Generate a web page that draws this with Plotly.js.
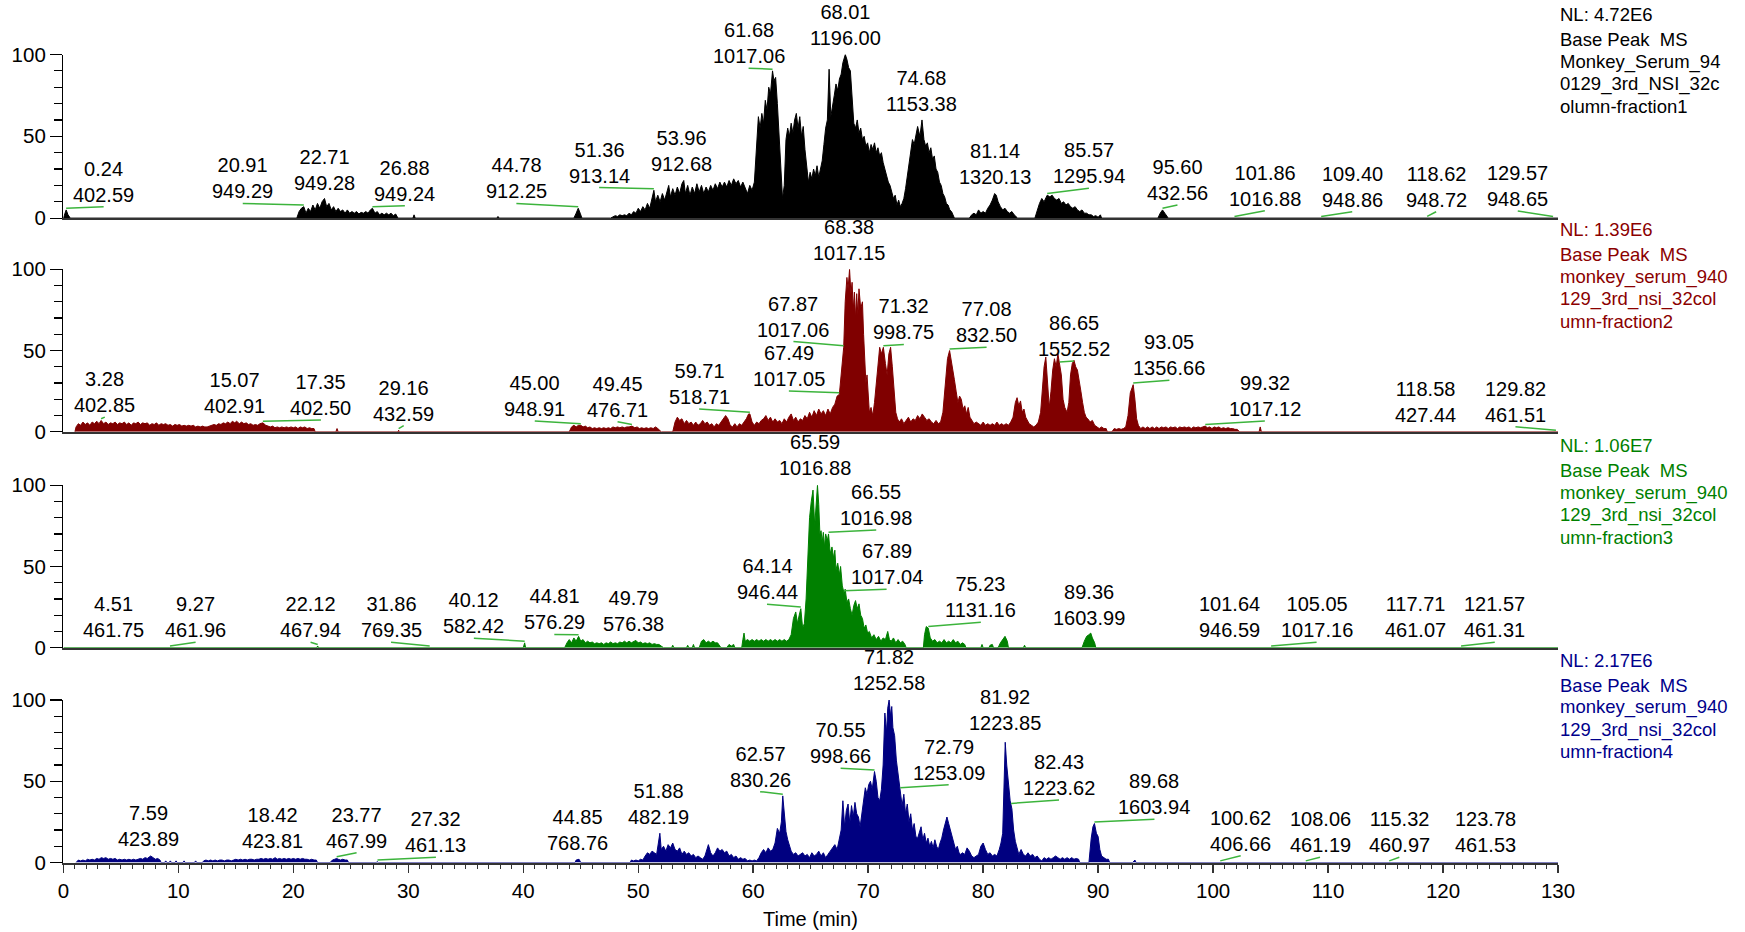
<!DOCTYPE html>
<html><head><meta charset="utf-8">
<script src="https://cdn.plot.ly/plotly-3.0.1.min.js"></script>
<style>html,body{margin:0;padding:0;background:#fff}#plot{width:1745px;height:932px}</style>
</head><body><div id="plot"></div>
<script>
// ---------------- DATA (time in min, relative abundance %) ----------------
const trace1 = [[0,0],[0.1,2],[0.24,5],[0.4,2],[0.6,0],
[20.3,0],[20.5,4],[20.7,6],[20.91,7],[21.1,3],[21.3,6],[21.5,4],[21.7,8],[21.9,5],[22.1,9],[22.3,6],[22.5,10],[22.71,12],[22.9,7],[23.1,9],[23.3,5],[23.5,7],[23.7,4],[23.9,6],[24.1,4],[24.3,5],[24.5,3],[24.7,5],[24.9,3],[25.1,4],[25.3,3],[25.5,4],[25.7,2.5],[25.9,3.5],[26.1,3],[26.3,4],[26.5,3],[26.7,5],[26.88,6],[27.1,3],[27.3,4],[27.5,2],[27.7,3],[27.9,2],[28.1,3],[28.3,2],[28.5,3],[28.7,1.5],[28.9,2.5],[29.1,0],
[30.4,0],[30.5,2],[30.6,0],[37.7,0],[37.8,1],[37.9,0],
[44.4,0],[44.6,3],[44.78,6],[44.95,3],[45.1,0],
[47.6,0],[47.8,1],[48.0,1.5],[48.2,1],[48.4,2],[48.6,1.5],[48.8,2],[49.0,1.5],[49.2,3],[49.4,2],[49.6,4],[49.8,3],[50.0,6],[50.2,4],[50.4,7],[50.6,5],[50.8,9],[51.0,6],[51.2,12],[51.36,17],[51.5,10],[51.7,14],[51.9,10],[52.1,15],[52.3,11],[52.5,17],[52.65,20],[52.8,13],[53.0,18],[53.2,14],[53.4,19],[53.6,15],[53.8,21],[53.96,23],[54.1,15],[54.3,20],[54.5,14],[54.7,19],[54.9,15],[55.1,21],[55.3,16],[55.5,20],[55.7,15],[55.9,19],[56.1,16],[56.3,20],[56.5,17],[56.7,21],[56.9,18],[57.1,22],[57.3,19],[57.5,22],[57.7,19],[57.9,23],[58.1,20],[58.3,24],[58.5,21],[58.7,23],[58.9,19],[59.1,22],[59.3,18],[59.5,15],[59.7,20],[59.9,17],[60.1,22],[60.3,45],[60.45,62],[60.6,55],[60.75,64],[60.9,58],[61.05,72],[61.2,66],[61.35,80],[61.5,76],[61.68,90],[61.8,84],[61.95,86],[62.1,70],[62.25,52],[62.4,30],[62.55,12],[62.7,20],[62.85,48],[63.0,55],[63.15,50],[63.3,58],[63.45,52],[63.6,60],[63.75,64],[63.9,55],[64.05,62],[64.2,50],[64.35,56],[64.5,42],[64.65,30],[64.8,22],[64.95,28],[65.1,24],[65.25,30],[65.4,26],[65.55,32],[65.7,25],[65.85,30],[66.0,35],[66.15,45],[66.3,55],[66.45,60],[66.6,91],[66.75,62],[66.9,70],[67.05,75],[67.2,82],[67.35,78],[67.5,85],[67.65,88],[67.8,95],[68.01,100],[68.15,97],[68.3,92],[68.45,90],[68.6,70],[68.75,58],[68.9,55],[69.05,60],[69.2,52],[69.35,55],[69.5,48],[69.65,50],[69.8,44],[69.95,46],[70.1,40],[70.25,45],[70.4,42],[70.55,46],[70.7,40],[70.85,43],[71.0,38],[71.15,40],[71.3,34],[71.45,30],[71.6,26],[71.75,22],[71.9,20],[72.05,15],[72.2,12],[72.35,14],[72.5,8],[72.65,11],[72.8,7],[72.95,9],[73.1,12],[73.25,18],[73.4,25],[73.55,32],[73.7,40],[73.85,48],[74.0,45],[74.15,52],[74.3,56],[74.5,50],[74.68,60],[74.85,48],[75.0,44],[75.15,46],[75.3,40],[75.45,43],[75.6,36],[75.75,38],[75.9,30],[76.05,28],[76.2,22],[76.35,20],[76.5,15],[76.65,13],[76.8,9],[76.95,8],[77.1,5],[77.25,4],[77.4,2],[77.5,0],
[78.8,0],[79.0,2],[79.2,3],[79.4,2],[79.6,5],[79.8,3],[80.0,4],[80.2,3],[80.4,6],[80.6,8],[80.8,11],[81.0,15],[81.14,14],[81.3,10],[81.5,7],[81.7,5],[81.9,6],[82.1,4],[82.3,3],[82.5,4],[82.7,2],[82.9,1],[83.0,0],
[84.5,0],[84.7,5],[84.9,9],[85.1,12],[85.3,10],[85.57,14],[85.8,13],[86.0,14],[86.2,12],[86.4,11],[86.6,12],[86.8,9],[87.0,10],[87.2,8],[87.4,9],[87.6,7],[87.8,6],[88.0,7],[88.2,5],[88.4,4],[88.6,5],[88.8,3],[89.0,3],[89.2,2],[89.4,2],[89.6,1],[89.8,1.5],[90.0,0.5],[90.2,2],[90.3,0],
[95.2,0],[95.4,3],[95.6,5],[95.8,3],[96.0,1],[96.1,0],[130,0]];

const trace2 = [[1.0,0],[1.1,3],[1.3,5],[1.5,4],[1.7,6],[1.9,4.5],[2.1,5.5],[2.3,4],[2.5,6],[2.7,5],[2.9,6.5],[3.1,5],[3.28,7],[3.5,5],[3.7,6],[3.9,4.5],[4.1,5.5],[4.3,5],[4.5,6],[4.7,4.5],[4.9,5.5],[5.1,5],[5.3,6],[5.5,4.5],[5.7,5.5],[5.9,4],[6.1,5.5],[6.3,5],[6.5,6],[6.7,4.5],[6.9,5.5],[7.1,5],[7.3,5.5],[7.5,4],[7.7,5],[7.9,4.5],[8.1,5.5],[8.3,4],[8.5,5],[8.7,4.5],[8.9,5],[9.1,4],[9.3,4.5],[9.5,3.5],[9.7,4.5],[9.9,4],[10.1,4.5],[10.3,3.5],[10.5,4],[10.7,3.5],[10.9,4],[11.1,3.5],[11.3,4],[11.5,3],[11.7,3.5],[11.9,3],[12.1,3.5],[12.3,3],[12.5,3],[12.7,3.5],[12.9,4],[13.1,4.5],[13.3,4],[13.5,5],[13.7,4.5],[13.9,5.5],[14.1,5],[14.3,6],[14.5,5],[14.7,6.5],[14.9,5.5],[15.07,6.5],[15.3,5],[15.5,6],[15.7,5],[15.9,5.5],[16.1,4.5],[16.3,5],[16.5,4],[16.7,4.5],[16.9,4],[17.1,5],[17.35,5.5],[17.6,4],[17.8,3.5],[18.0,3],[18.2,3.5],[18.4,2.5],[18.6,3],[18.8,2.5],[19.0,3],[19.2,2.5],[19.4,3],[19.6,2.5],[19.8,3],[20.0,2.5],[20.2,3],[20.4,2],[20.6,3],[20.8,2.5],[21.0,3],[21.2,2],[21.4,2.5],[21.6,2],[21.8,2],[21.9,0],
[23.7,0],[23.8,2],[23.9,0],[29.1,0],[29.16,1],[29.2,0],
[44.0,0],[44.2,3],[44.4,4],[44.6,3],[44.8,4],[45.0,4],[45.2,3],[45.4,3.5],[45.6,2.5],[45.8,3],[46.0,2],[46.2,2.5],[46.4,2],[46.6,2.5],[46.8,2],[47.0,2.5],[47.2,2],[47.4,2.5],[47.6,2],[47.8,3],[48.0,2.5],[48.2,3],[48.4,2.5],[48.6,3],[48.8,2.5],[49.0,3],[49.2,3],[49.45,3.5],[49.7,2.5],[49.9,3],[50.1,2],[50.3,2.5],[50.5,2],[50.7,2.5],[50.9,2],[51.1,2.5],[51.3,2],[51.5,3],[51.7,2],[51.9,1],[52.0,0],
[53.0,0],[53.2,6],[53.4,9],[53.6,7],[53.8,8],[54.0,5],[54.2,7],[54.4,5],[54.6,6],[54.8,4],[55.0,6],[55.2,4],[55.4,5],[55.6,7],[55.8,5],[56.0,6],[56.2,4],[56.4,5],[56.6,3],[56.8,5],[57.0,4],[57.2,6],[57.4,8],[57.6,10],[57.8,8],[58.0,4],[58.2,3],[58.4,5],[58.6,3],[58.8,5],[59.0,4],[59.2,6],[59.4,8],[59.6,11],[59.71,11],[59.9,6],[60.1,4],[60.3,6],[60.5,5],[60.7,7],[60.9,8],[61.1,10],[61.3,7],[61.5,9],[61.7,6],[61.9,8],[62.1,6],[62.3,7],[62.5,5],[62.7,8],[62.9,6],[63.1,9],[63.3,11],[63.5,7],[63.7,9],[63.9,6],[64.1,8],[64.3,7],[64.5,10],[64.7,8],[64.9,12],[65.1,9],[65.3,13],[65.5,10],[65.7,14],[65.9,11],[66.1,13],[66.3,10],[66.5,14],[66.7,11],[66.9,15],[67.1,17],[67.3,22],[67.49,23],[67.65,35],[67.87,52],[68.0,80],[68.15,95],[68.25,88],[68.38,100],[68.5,85],[68.6,92],[68.7,75],[68.8,86],[68.9,70],[69.0,85],[69.1,72],[69.2,88],[69.35,76],[69.5,80],[69.6,60],[69.7,48],[69.8,30],[69.9,35],[70.0,20],[70.1,12],[70.25,15],[70.4,10],[70.55,18],[70.7,30],[70.85,45],[71.0,52],[71.15,48],[71.32,52],[71.5,42],[71.65,35],[71.8,48],[71.95,52],[72.1,40],[72.25,25],[72.4,12],[72.55,8],[72.7,6],[72.9,8],[73.1,5],[73.3,7],[73.5,9],[73.7,6],[73.9,8],[74.1,7],[74.3,10],[74.5,8],[74.7,11],[74.9,9],[75.1,7],[75.3,8],[75.5,6],[75.7,5],[75.9,7],[76.1,5],[76.3,6],[76.5,12],[76.7,30],[76.9,45],[77.08,50],[77.2,44],[77.35,38],[77.5,32],[77.65,25],[77.8,18],[77.95,22],[78.1,20],[78.25,14],[78.4,16],[78.55,11],[78.7,15],[78.85,9],[79.0,7],[79.2,5],[79.4,6],[79.6,5],[79.8,4],[80.0,6],[80.2,4],[80.4,5],[80.6,4],[80.8,5],[81.0,4],[81.2,6],[81.4,4],[81.6,5],[81.8,4],[82.0,5],[82.2,4],[82.4,6],[82.6,9],[82.8,18],[82.95,21],[83.1,16],[83.25,19],[83.4,12],[83.55,14],[83.7,9],[83.85,7],[84.0,5],[84.2,4],[84.4,3],[84.6,4],[84.8,6],[85.0,12],[85.15,25],[85.3,40],[85.45,46],[85.6,30],[85.75,15],[85.9,25],[86.05,38],[86.2,45],[86.35,40],[86.5,48],[86.65,42],[86.8,35],[86.95,20],[87.1,15],[87.3,12],[87.45,18],[87.6,35],[87.75,42],[87.9,44],[88.05,40],[88.2,38],[88.35,30],[88.5,25],[88.65,18],[88.8,12],[88.95,9],[89.1,8],[89.3,6],[89.5,7],[89.7,4],[89.9,3],[90.1,2],[90.3,3],[90.5,2],[90.7,2],[90.8,0],
[91.2,0],[91.4,2],[91.6,1.5],[91.8,2],[92.0,1.5],[92.2,2],[92.4,3],[92.6,10],[92.8,24],[93.05,29],[93.2,20],[93.35,8],[93.5,4],[93.7,2],[93.9,3],[94.1,2],[94.3,3],[94.5,2],[94.7,3],[94.9,2],[95.1,3],[95.3,2],[95.5,3],[95.7,2.5],[95.9,3],[96.1,2],[96.3,3],[96.5,2.5],[96.7,3],[96.9,2],[97.1,3],[97.3,2.5],[97.5,3],[97.7,2.5],[97.9,3],[98.1,2],[98.3,3],[98.5,2.5],[98.7,3],[98.9,2.5],[99.1,3],[99.32,3.5],[99.5,2.5],[99.7,3],[99.9,2],[100.1,3],[100.3,2.5],[100.5,3],[100.7,2],[100.9,2.5],[101.1,2],[101.3,2.5],[101.5,2],[101.7,2],[101.9,1.5],[102.1,1.5],[102.3,0],
[104.0,0],[104.1,3],[104.2,0],[130,0]];

const trace3 = [[0,0],[22.0,0],[22.12,1],[22.2,0],[40.0,0],[40.12,3],[40.2,0],
[43.6,0],[43.8,3],[44.0,5],[44.2,3],[44.4,6],[44.6,4],[44.81,7],[45.0,4],[45.2,5],[45.4,3],[45.6,4],[45.8,3],[46.0,3.5],[46.2,2.5],[46.4,3],[46.6,2.5],[46.8,3],[47.0,2],[47.2,3],[47.4,2.5],[47.6,3.5],[47.8,2.5],[48.0,3],[48.2,2.5],[48.4,3.5],[48.6,3],[48.8,4],[49.0,3],[49.2,4],[49.4,3],[49.6,4],[49.79,4.5],[50.0,3],[50.2,3.5],[50.4,2.5],[50.6,3],[50.8,2.5],[51.0,3],[51.2,2],[51.4,2.5],[51.6,2],[51.8,2],[52.0,1],[52.2,0],
[52.9,0],[53.0,1.5],[53.1,0],[54.2,0],[54.3,1.5],[54.4,0],[54.7,0],[54.8,2],[54.9,0],
[55.3,0],[55.5,4],[55.7,5],[55.9,3],[56.1,4],[56.3,3],[56.5,4],[56.7,3],[56.9,3],[57.1,1],[57.2,0],
[57.7,0],[57.9,2],[58.1,1],[58.3,2],[58.4,0],
[59.0,0],[59.1,5],[59.2,9],[59.3,4],[59.5,5],[59.7,4],[59.9,5],[60.1,4],[60.3,5],[60.5,4],[60.7,5],[60.9,4],[61.1,5],[61.3,4],[61.5,5],[61.7,4],[61.9,5],[62.1,4],[62.3,5],[62.5,4],[62.7,5],[62.9,4],[63.1,5],[63.3,8],[63.5,18],[63.7,22],[63.85,15],[64.0,20],[64.14,24],[64.3,12],[64.45,15],[64.6,30],[64.75,60],[64.9,80],[65.05,90],[65.2,97],[65.35,75],[65.45,85],[65.59,100],[65.7,88],[65.8,70],[65.9,72],[66.0,65],[66.1,71],[66.2,62],[66.3,70],[66.45,66],[66.55,70],[66.7,58],[66.85,62],[67.0,55],[67.1,60],[67.2,48],[67.35,52],[67.5,45],[67.6,50],[67.75,38],[67.89,34],[68.0,36],[68.15,28],[68.3,30],[68.45,24],[68.6,20],[68.75,26],[68.9,29],[69.05,24],[69.2,27],[69.35,20],[69.5,18],[69.65,12],[69.8,14],[69.95,9],[70.1,10],[70.3,6],[70.5,8],[70.7,5],[70.9,7],[71.1,4],[71.3,6],[71.5,5],[71.7,10],[71.85,5],[72.0,4],[72.2,6],[72.4,3],[72.6,5],[72.8,3],[73.0,4],[73.2,2],[73.3,0],
[74.8,0],[74.9,8],[75.05,13],[75.23,12],[75.4,6],[75.6,4],[75.8,5],[76.0,3],[76.2,4],[76.4,3],[76.6,5],[76.8,3],[77.0,4],[77.2,3],[77.4,5],[77.6,3],[77.8,4],[78.0,2],[78.2,3],[78.4,2],[78.5,0],
[79.8,0],[79.9,2],[80.0,0],[80.5,0],[80.6,1.5],[80.8,2],[80.9,0],
[81.3,0],[81.5,3],[81.7,5],[81.9,7],[82.1,4],[82.2,0],[83.5,0],[83.6,1.5],[83.7,0],
[88.6,0],[88.8,4],[89.0,7],[89.2,8],[89.36,9],[89.5,6],[89.7,3],[89.8,0],[130,0]];

const trace4 = [[1.1,0],[1.3,1.5],[1.5,1],[1.7,1.5],[1.9,1],[2.1,2],[2.3,1.5],[2.5,2],[2.7,1.5],[2.9,2.5],[3.1,2],[3.3,3],[3.5,2.5],[3.7,3],[3.9,2],[4.1,2.5],[4.3,2],[4.5,2.5],[4.7,1.5],[4.9,2],[5.1,1.5],[5.3,2],[5.5,1.5],[5.7,2],[5.9,1.5],[6.1,2],[6.3,1.5],[6.5,2],[6.7,2.5],[6.9,2],[7.1,3],[7.3,2.5],[7.59,4],[7.8,3],[8.0,2],[8.2,2.5],[8.4,1.5],[8.5,0],
[8.8,0],[8.9,1],[9.0,0],[9.2,0],[9.3,1],[9.4,0],[9.7,0],[9.8,1],[9.9,0],[10.4,0],[10.5,1],[10.6,0],[11.4,0],[11.5,1],[11.6,0],
[12.1,0],[12.2,1],[12.4,1.5],[12.6,1],[12.8,1.5],[13.0,1],[13.2,1.5],[13.4,1],[13.6,1.5],[13.8,1.5],[14.0,1],[14.2,1.5],[14.4,1.5],[14.6,1],[14.8,1.5],[15.0,2],[15.2,1.5],[15.4,2],[15.6,1.5],[15.8,2],[16.0,1.5],[16.2,2],[16.4,2],[16.6,1.5],[16.8,2],[17.0,2],[17.2,2.5],[17.4,2],[17.6,2.5],[17.8,2],[18.0,2.5],[18.2,2],[18.42,3],[18.6,2],[18.8,2.5],[19.0,2],[19.2,2.5],[19.4,2],[19.6,2.5],[19.8,2],[20.0,2.5],[20.2,2],[20.4,2.5],[20.6,2],[20.8,2.5],[21.0,2],[21.2,2],[21.4,1.5],[21.6,2],[21.8,1.5],[22.0,1.5],[22.1,0],
[23.2,0],[23.4,1.5],[23.6,2],[23.77,2.5],[23.9,2],[24.1,1.5],[24.3,2],[24.5,1.5],[24.7,1.5],[24.8,0],
[27.2,0],[27.32,0.5],[27.4,0],[44.5,0],[44.6,1.5],[44.85,2],[45.0,0],
[49.3,0],[49.4,1.5],[49.6,1],[49.8,1.5],[50.0,1],[50.2,2],[50.4,1.5],[50.6,4],[50.8,6],[51.0,5],[51.2,7],[51.4,6],[51.6,5],[51.88,18],[52.0,8],[52.2,10],[52.4,7],[52.6,11],[52.8,9],[53.0,12],[53.2,8],[53.4,7],[53.6,9],[53.8,5],[54.0,7],[54.2,5],[54.4,6],[54.6,4],[54.8,5],[55.0,3],[55.2,4],[55.4,3],[55.6,2],[55.8,4],[56.0,8],[56.1,11],[56.3,6],[56.5,4],[56.7,6],[56.9,9],[57.1,7],[57.3,8],[57.5,6],[57.7,7],[57.9,4],[58.1,5],[58.3,3],[58.5,4],[58.7,2],[58.9,3],[59.1,2],[59.3,2.5],[59.5,1],[59.7,1.5],[59.9,1],[60.1,1.5],[60.3,1],[60.5,3],[60.7,6],[60.9,8],[61.1,6],[61.3,9],[61.5,7],[61.7,8],[61.9,12],[62.1,21],[62.3,18],[62.45,25],[62.57,41],[62.7,28],[62.85,19],[63.0,14],[63.15,10],[63.3,7],[63.5,5],[63.7,6],[63.9,4],[64.1,5],[64.3,6],[64.5,4],[64.7,5],[64.9,3],[65.1,6],[65.3,4],[65.5,5],[65.7,7],[65.9,4],[66.1,6],[66.3,3],[66.5,5],[66.7,7],[66.9,9],[67.1,11],[67.3,8],[67.5,14],[67.65,20],[67.8,38],[67.95,22],[68.1,32],[68.25,36],[68.4,24],[68.55,35],[68.7,28],[68.85,37],[69.0,30],[69.15,28],[69.3,22],[69.45,30],[69.6,38],[69.75,46],[69.9,42],[70.05,48],[70.2,50],[70.35,45],[70.55,56],[70.7,50],[70.85,40],[71.0,38],[71.15,45],[71.3,60],[71.45,92],[71.6,80],[71.7,95],[71.82,100],[71.95,90],[72.05,96],[72.15,83],[72.3,78],[72.45,63],[72.6,55],[72.79,45],[72.95,35],[73.1,42],[73.25,30],[73.4,36],[73.55,25],[73.7,30],[73.85,20],[74.0,24],[74.15,16],[74.3,15],[74.45,18],[74.6,22],[74.75,14],[74.9,18],[75.05,12],[75.2,15],[75.35,10],[75.5,13],[75.65,9],[75.8,14],[75.95,10],[76.1,8],[76.25,12],[76.4,15],[76.55,20],[76.7,25],[76.85,28],[77.0,24],[77.15,20],[77.3,15],[77.45,12],[77.6,8],[77.75,10],[77.9,6],[78.05,5],[78.2,6],[78.4,5],[78.6,9],[78.8,7],[79.0,4],[79.2,3],[79.4,4],[79.6,5],[79.8,10],[80.0,12],[80.2,8],[80.4,5],[80.6,6],[80.8,4],[81.0,5],[81.2,4],[81.4,8],[81.55,12],[81.7,18],[81.8,40],[81.92,74],[82.05,60],[82.2,50],[82.35,38],[82.5,33],[82.65,20],[82.8,13],[82.95,8],[83.1,5],[83.3,8],[83.5,5],[83.7,4],[83.9,6],[84.1,4],[84.3,5],[84.5,3],[84.7,4],[84.9,2],[85.1,1],[85.3,3],[85.5,2],[85.7,3],[85.9,2],[86.1,3],[86.3,4],[86.5,3],[86.7,2],[86.9,3],[87.1,2],[87.3,3],[87.5,2],[87.7,3],[87.9,2],[88.1,2.5],[88.3,2],[88.4,0],
[89.2,0],[89.4,15],[89.55,22],[89.68,24],[89.85,18],[90.0,16],[90.15,8],[90.3,4],[90.5,3],[90.7,2],[90.9,2],[91.0,0],[93.0,0],[93.2,1.5],[93.3,0],[130,0]];

// peak labels: retention time / base peak m/z
const pk1_rt = ['0.24','20.91','22.71','26.88','44.78','51.36','53.96','61.68','68.01','74.68','81.14','85.57','95.60','101.86','109.40','118.62','129.57'];
const pk1_mz = ['402.59','949.29','949.28','949.24','912.25','913.14','912.68','1017.06','1196.00','1153.38','1320.13','1295.94','432.56','1016.88','948.86','948.72','948.65'];
const pk2_rt = ['3.28','15.07','17.35','29.16','45.00','49.45','59.71','67.49','67.87','68.38','71.32','77.08','86.65','93.05','99.32','118.58','129.82'];
const pk2_mz = ['402.85','402.91','402.50','432.59','948.91','476.71','518.71','1017.05','1017.06','1017.15','998.75','832.50','1552.52','1356.66','1017.12','427.44','461.51'];
const pk3_rt = ['4.51','9.27','22.12','31.86','40.12','44.81','49.79','64.14','65.59','66.55','67.89','75.23','89.36','101.64','105.05','117.71','121.57'];
const pk3_mz = ['461.75','461.96','467.94','769.35','582.42','576.29','576.38','946.44','1016.88','1016.98','1017.04','1131.16','1603.99','946.59','1017.16','461.07','461.31'];
const pk4_rt = ['7.59','18.42','23.77','27.32','44.85','51.88','62.57','70.55','71.82','72.79','81.92','82.43','89.68','100.62','108.06','115.32','123.78'];
const pk4_mz = ['423.89','423.81','467.99','461.13','768.76','482.19','830.26','998.66','1252.58','1253.09','1223.85','1223.62','1603.94','406.66','461.19','460.97','461.53'];

const nl = ['NL: 4.72E6','NL: 1.39E6','NL: 1.06E7','NL: 2.17E6'];
const fileNames = [
  ['Monkey_Serum_94','0129_3rd_NSI_32c','olumn-fraction1'],
  ['monkey_serum_940','129_3rd_nsi_32col','umn-fraction2'],
  ['monkey_serum_940','129_3rd_nsi_32col','umn-fraction3'],
  ['monkey_serum_940','129_3rd_nsi_32col','umn-fraction4']];
const xTicks = [0,10,20,30,40,50,60,70,80,90,100,110,120,130];

// ---------------- LAYOUT-ONLY (label placement, styles) ----------------
const lab1_x = [3.5,15.6,22.7,29.7,39.4,46.6,53.8,59.6,68.0,74.6,81.0,89.2,96.9,104.5,112.1,119.4,126.5];
const lab1_y = [7.0,9.0,14.3,7.6,9.0,18.7,26,91.6,103,62.2,17.8,18.2,8,4.5,3.9,3.9,4.3];
const lab1_ln = [1,1,0,1,1,1,0,1,0,0,0,1,1,1,1,1,1];
const lab2_x = [3.6,14.9,22.4,29.6,41.0,48.2,55.3,63.1,63.5,68.3,73.1,80.3,87.9,96.2,104.5,118.5,126.3];
const lab2_y = [9,8.5,7.3,3.8,6.6,6.2,14,25.1,55.5,102.8,53.8,52,43.6,31.7,6.6,3.0,3.1];
const lab2_ln = [1,0,1,1,1,1,1,1,1,0,1,1,1,1,1,0,1];
const lab3_x = [4.4,11.5,21.5,28.5,35.7,42.7,49.6,61.2,65.4,70.7,71.6,79.8,89.2,101.4,109.0,117.6,124.5];
const lab3_y = [3.3,3.3,3.3,3.3,5.8,8.2,7.4,26.7,103.4,72.4,35.9,15.6,11.1,3.3,3.3,3.3,3.3];
const lab3_ln = [0,1,1,1,1,1,0,1,0,1,1,1,0,0,1,0,1];
const lab4_x = [7.4,18.2,25.5,32.4,44.7,51.8,60.6,67.6,71.8,77.0,81.9,86.6,94.9,102.4,109.3,116.2,123.7];
const lab4_y = [6.9,5.8,6,3.2,4.8,20.6,43.6,58,103.3,47.9,78.6,38.5,26.6,4.2,3.2,3.2,3.2];
const lab4_ln = [0,0,1,1,0,0,1,1,0,1,0,1,1,1,1,1,0];

const colors = ['#000000','#800000','#008000','#000080'];
const textColors = ['#000000','#8b0000','#008000','#00008b'];
const FONT = '"Liberation Sans", Arial, Helvetica, sans-serif';
const W = 1745, H = 932;
const plotLeft = 63.4, plotRight = 1558;
const panelTop = [54.5, 269.3, 485.2, 700];
const panelBot = [218.1, 431.8, 647.7, 862.5];

const traces = [trace1, trace2, trace3, trace4];
const pkRt = [pk1_rt, pk2_rt, pk3_rt, pk4_rt];
const pkMz = [pk1_mz, pk2_mz, pk3_mz, pk4_mz];
const labX = [lab1_x, lab2_x, lab3_x, lab4_x];
const labY = [lab1_y, lab2_y, lab3_y, lab4_y];
const labLn = [lab1_ln, lab2_ln, lab3_ln, lab4_ln];

function lookup(pairs, t) {
  for (let i = 0; i < pairs.length - 1; i++) {
    const a = pairs[i], b = pairs[i+1];
    if (t >= a[0] && t <= b[0]) {
      if (b[0] === a[0]) return Math.max(a[1], b[1]);
      return a[1] + (b[1]-a[1]) * (t - a[0]) / (b[0] - a[0]);
    }
  }
  return 0;
}

const data = [];
const layout = {
  width: W, height: H, margin: {l:0, r:0, t:0, b:0},
  paper_bgcolor: '#fff', plot_bgcolor: 'rgba(0,0,0,0)',
  showlegend: false, font: {family: FONT, size: 20, color: '#000'},
  annotations: [], shapes: []
};

for (let k = 0; k < 4; k++) {
  const sfx = k === 0 ? '' : String(k+1);
  const xr = 'x' + sfx, yr = 'y' + sfx;
  const pts = traces[k];
  data.push({
    type: 'scatter', mode: 'lines', xaxis: xr, yaxis: yr,
    x: pts.map(p => p[0]), y: pts.map(p => p[1]),
    line: {color: colors[k], width: 1}, fill: 'tozeroy', fillcolor: colors[k],
    hoverinfo: 'skip'
  });
  const yDom = [1 - panelBot[k]/H, 1 - panelTop[k]/H];
  const ppu = (panelBot[k] - panelTop[k]) / 100;
  const isBottom = k === 3;
  layout['xaxis' + sfx] = {
    domain: [plotLeft/W, plotRight/W], anchor: yr, range: [0, 130],
    showgrid: false, zeroline: false, showline: true, linecolor: '#333', linewidth: 2,
    ticks: isBottom ? 'outside' : '', tickvals: isBottom ? xTicks : [], ticklen: 8, tickwidth: 1.5, tickcolor: '#333',
    showticklabels: isBottom, tickfont: {family: FONT, size: 20.5, color: '#000'},
    ticklabelstandoff: 1,
    minor: isBottom ? {dtick: 1, ticklen: 4, tickwidth: 1, tickcolor: '#333', ticks: 'outside', showgrid: false} : undefined,
    automargin: false, fixedrange: true
  };
  layout['yaxis' + sfx] = {
    domain: yDom, anchor: xr, range: [0, 100],
    showgrid: false, zeroline: false, showline: true, linecolor: '#000', linewidth: 1.5,
    ticks: 'outside', tickvals: [0, 50, 100], ticklen: 12, tickwidth: 1.2, tickcolor: '#000',
    tickfont: {family: FONT, size: 20.5, color: '#000'},
    minor: {tickvals: [10,20,30,40,60,70,80,90], ticklen: 8, tickwidth: 1.2, tickcolor: '#000', ticks: 'outside', showgrid: false},
    automargin: false, fixedrange: true
  };

  // peak labels + green leader lines
  for (let i = 0; i < pkRt[k].length; i++) {
    const rt = parseFloat(pkRt[k][i]);
    const lx = labX[k][i], ly = labY[k][i];
    if (labLn[k][i]) {
      const tip = lookup(pts, rt) + 1;
      layout.shapes.push({type: 'line', xref: xr, yref: yr, x0: rt, y0: tip, x1: lx, y1: ly,
        line: {color: '#3cb43c', width: 1.5}});
    }
    layout.annotations.push({
      xref: xr, yref: yr, x: lx, y: Math.min(ly, 100),
      yshift: (ly > 100 ? (ly - 100) * ppu : 0) - 1,
      xanchor: 'center', yanchor: 'bottom', showarrow: false,
      text: pkRt[k][i] + '<br>' + pkMz[k][i],
      font: {family: FONT, size: 20, color: '#000'}
    });
  }

  // right side info block
  const lines = [nl[k], 'Base Peak\u00a0\u00a0MS'].concat(fileNames[k]);
  const offs = [-40, -15, 7.3, 29.6, 51.9];
  for (let j = 0; j < lines.length; j++) {
    layout.annotations.push({
      xref: 'paper', yref: 'paper', x: plotRight/W, y: 1 - (panelTop[k] + offs[j])/H,
      xanchor: 'left', yanchor: 'middle', showarrow: false,
      text: lines[j], font: {family: FONT, size: 18.5, color: textColors[k]}
    });
  }
}

layout.annotations.push({
  xref: 'x4', yref: 'paper', x: 65, y: 1 - 919/H, xanchor: 'center', yanchor: 'middle',
  showarrow: false, text: 'Time (min)', font: {family: FONT, size: 20, color: '#000'}
});

Plotly.newPlot('plot', data, layout, {staticPlot: true, displayModeBar: false});
</script>
</body></html>
